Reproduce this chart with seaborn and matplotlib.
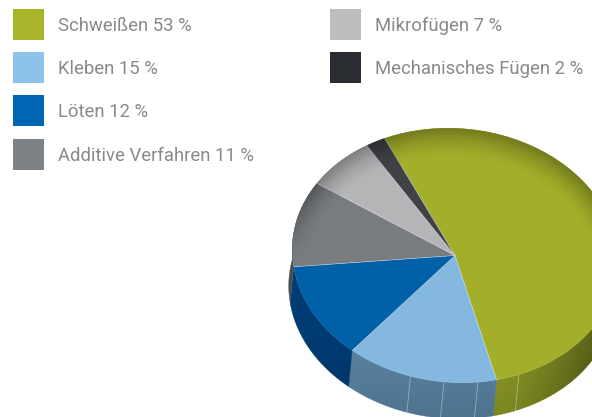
import numpy as np
import matplotlib
matplotlib.use("Agg")
import matplotlib.pyplot as plt
import seaborn as sns
from matplotlib.patches import Polygon, Rectangle
from matplotlib.transforms import Affine2D

labels = ["Schweißen", "Kleben", "Löten", "Additive Verfahren", "Mikrofügen", "Mechanisches Fügen"]
shares = [53, 15, 12, 11, 7, 2]
top_colors = ["#a3af2a", "#85b8de", "#0061a9", "#777c80", "#b5b5b8", "#404245"]
side_colors = ["#8f9a26", "#5b85a5", "#003c74", "#4c4f52", "#6a6a6c", "#2b2d30"]
legend_colors = ["#a9b52b", "#8dc3ea", "#0066b3", "#7d8286", "#bcbdbf", "#292c30"]
seam_angles = [-63, -78, -90, -102]

W, H = 592, 417
cx, cy, rx, ry, tilt = 455, 255.5, 163, 127, 5
depth = np.array([-3.5, 36])

sns.set_theme(style="white")
plt.rcParams['font.family'] = ['Roboto', 'DejaVu Sans']
palette = sns.color_palette(top_colors)

fig = plt.figure(figsize=(W / 100, H / 100), dpi=100, facecolor="white")
ax = fig.add_axes([0, 0, 1, 1])

# unit pie -> tilted ellipse in pixel space
pie_tf = Affine2D().scale(rx, -ry).rotate_deg(tilt).translate(cx, cy)
wedges, _ = ax.pie(shares, colors=palette, startangle=119.5, counterclock=False, radius=1,
                   wedgeprops={"linewidth": 0})
for w in wedges:
    w.set_transform(pie_tf + ax.transData)
    w.set_zorder(5)

def rim(a):
    t = np.radians(a)
    return pie_tf.transform(np.column_stack([np.cos(t), np.sin(t)]))

# side wall, only the part of each slice facing the viewer
for w, c in zip(wedges, side_colors):
    a1, a2 = w.theta1 % 360, w.theta2 % 360
    if a2 <= a1:
        a2 += 360
    a = np.linspace(a1, a2, 200)
    pts = rim(a)
    ax.add_patch(Polygon(np.vstack([pts, pts[::-1] + depth]), closed=True,
                         facecolor=c, edgecolor=c, linewidth=0.3, zorder=2))

pts = rim(np.linspace(0, 360, 720))
outline = np.vstack([pts, pts[0]])
side_pts = np.vstack([rim(np.linspace(-200, 20, 300)), rim(np.linspace(20, -200, 300)) + depth])

xx, yy = np.meshgrid(np.arange(W) + 0.5, np.arange(H) + 0.5)

# darker to the right and toward the lower edge of the wall
rel = (yy - 330) / 90
alpha = 0.36 * np.clip((xx - 505) / 90, 0, 1) ** 1.3 + 0.14 * np.clip(rel, 0, 1)
rgba = np.zeros((H, W, 4))
rgba[..., 3] = np.clip(alpha, 0, 0.75)
side_im = ax.imshow(rgba, extent=(0, W, H, 0), aspect="auto", zorder=3)
side_im.set_clip_path(Polygon(side_pts, closed=True, transform=ax.transData))

for a in seam_angles:
    p = rim(np.array([a]))[0]
    q = p + depth
    ax.plot([p[0], q[0]], [p[1], q[1]], color="white", lw=0.6, alpha=0.4, zorder=4)

# soft dark rim on the upper part of the top face
inv = pie_tf.inverted()
uv = inv.transform(np.column_stack([xx.ravel(), yy.ravel()]))
u = uv[:, 0].reshape(xx.shape)
v = uv[:, 1].reshape(xx.shape)
s = (u ** 2 + (v + 1) ** 2) / (2 * np.maximum(v + 1, 1e-3))
shade = np.clip((s - 0.88) / 0.12, 0, 1) ** 1.5 * np.clip((v + 0.15) / 0.5, 0, 1) * 0.3
rgba = np.zeros((H, W, 4))
rgba[..., 3] = shade
top_im = ax.imshow(rgba, extent=(0, W, H, 0), aspect="auto", zorder=6)
top_im.set_clip_path(Polygon(outline, closed=True, transform=ax.transData))

# thin light seams between the slices
for w in wedges:
    p = rim(np.array([w.theta1]))[0]
    ax.plot([cx, p[0]], [cy, p[1]], color="#d5e2ea", lw=0.5, alpha=0.6, zorder=7)

ax.set_xlim(0, W)
ax.set_ylim(H, 0)
ax.set_aspect("auto")
ax.axis("off")

# legend: four rows on the left, two on the right
col_x = [13, 13, 13, 13, 330, 330]
row = [0, 1, 2, 3, 0, 1]
for name, share, col, x0, r in zip(labels, shares, legend_colors, col_x, row):
    y0 = 9 + r * 43.2
    ax.add_patch(Rectangle((x0, y0), 31, 31, facecolor=col, edgecolor="none", zorder=8))
    ax.text(x0 + 45, y0 + 17, f"{name} {share} %", color="#868a8d", fontsize=13.3,
            va="center", ha="left", zorder=8)

fig.savefig("out.png", dpi=100, facecolor="white")
